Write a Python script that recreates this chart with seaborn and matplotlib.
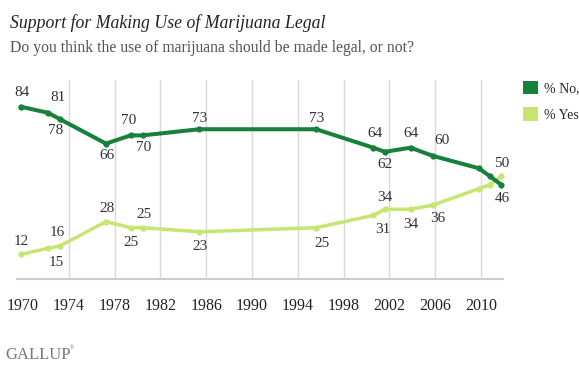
import matplotlib.pyplot as plt
import pandas as pd
import seaborn as sns
from matplotlib.patches import Patch

# poll dates (decimal years) and results
years = [1969.8, 1972.2, 1973.2, 1977.25, 1979.4, 1980.45, 1985.4, 1995.6,
         2000.6, 2001.6, 2003.85, 2005.8, 2009.8, 2010.8, 2011.75]
pct_no = [84, 81, 78, 66, 70, 70, 73, 73, 64, 62, 64, 60, 54, 50, 46]
pct_yes = [12, 15, 16, 28, 25, 25, 23, 25, 31, 34, 34, 36, 44, 46, 50]
series_names = ["% No,", "% Yes"]
xtick_years = [1970, 1974, 1978, 1982, 1986, 1990, 1994, 1998, 2002, 2006, 2010]

# label offsets in pixels (dx, dy up); None = no label
no_offsets = [(1, 14), (10, 15), (-4, -12), (1, -12), (-2, 15), (1, -12), (0, 11), (1, 11),
              (2, 14), (0, -13), (0, 14), (9, 15), None, None, (1, -14)]
yes_offsets = [(1, 13), (8, -14), (-2, 14), (1, 13), (0, -15), (1, 13), (1, -15), (6, -16),
               (9, -14), (0, 12), (0, -15), (5, -13), None, None, (1, 13)]

dark = "#17803b"
light = "#c6e670"

df = pd.DataFrame({
    "year": years * 2,
    "pct": pct_no + pct_yes,
    "series": [series_names[0]] * len(years) + [series_names[1]] * len(years),
})

sns.set_style("white")
plt.rcParams["font.family"] = ["Liberation Serif", "DejaVu Serif"]

fig = plt.figure(figsize=(5.79, 3.72), dpi=100)
ax = fig.add_axes([17 / 579, 93 / 372, 486 / 579, 199 / 372])

# yes first so the dark line sits on top
for name, color, lw in [(series_names[1], light, 2.5), (series_names[0], dark, 2.9)]:
    sns.lineplot(data=df[df["series"] == name], x="year", y="pct", color=color,
                 linewidth=lw, marker="o", markersize=4.5, markeredgewidth=0,
                 legend=False, ax=ax, sort=False, clip_on=False)

for vals, offs in [(pct_no, no_offsets), (pct_yes, yes_offsets)]:
    for x, v, off in zip(years, vals, offs):
        if off is None:
            continue
        ax.annotate(str(v), (x, v), xytext=off, textcoords="offset pixels",
                    ha="center", va="center", fontsize=11, color="#333333")

ax.set_xlim(1969.48, 2011.92)
ax.set_ylim(0, 97)
ax.set_xticks(xtick_years)
ax.set_xticklabels([str(y) for y in xtick_years], fontsize=11.5, color="#222222")
ax.set_yticks([])
ax.set_xlabel("")
ax.set_ylabel("")
ax.tick_params(axis="x", length=0, pad=14)
ax.grid(axis="x", color="#d9d9d9", linewidth=1)
ax.xaxis.get_gridlines()[0].set_visible(False)
for s in ["top", "left", "right"]:
    ax.spines[s].set_visible(False)
ax.spines["bottom"].set_color("#cccccc")
ax.spines["bottom"].set_linewidth(1.5)

handles = [Patch(facecolor=dark, edgecolor="none"), Patch(facecolor=light, edgecolor="none")]
fig.legend(handles, series_names, loc="upper left", bbox_to_anchor=(517 / 579, 1 - 75 / 372),
           frameon=False, fontsize=10, handlelength=1.1, handleheight=1.1,
           handletextpad=0.45, labelspacing=0.9, borderaxespad=0)

fig.text(10 / 579, 1 - 23 / 372, "Support for Making Use of Marijuana Legal",
         fontsize=12.8, style="italic", color="#222222", va="center")
fig.text(10 / 579, 1 - 48 / 372, "Do you think the use of marijuana should be made legal, or not?",
         fontsize=11.3, color="#555555", va="center")
fig.text(5 / 579, 1 - 355 / 372, "GALLUP", fontsize=12, color="#777777", va="center")
fig.text(70 / 579, 1 - 348 / 372, "\u00ae", fontsize=4, color="#777777", va="center")

fig.savefig("out.png", dpi=100)
